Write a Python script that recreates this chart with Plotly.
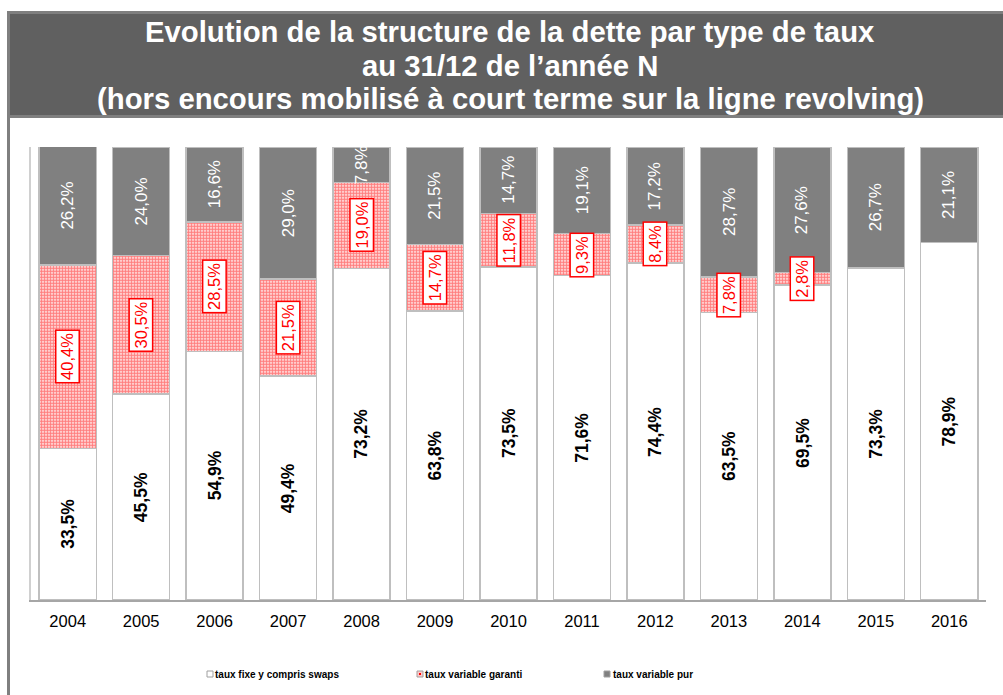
import plotly.graph_objects as go

years = ["2004", "2005", "2006", "2007", "2008", "2009", "2010", "2011", "2012", "2013", "2014", "2015", "2016"]
taux_fixe = [33.5, 45.5, 54.9, 49.4, 73.2, 63.8, 73.5, 71.6, 74.4, 63.5, 69.5, 73.3, 78.9]
taux_garanti = [40.4, 30.5, 28.5, 21.5, 19.0, 14.7, 11.8, 9.3, 8.4, 7.8, 2.8, None, None]
taux_pur = [26.2, 24.0, 16.6, 29.0, 7.8, 21.5, 14.7, 19.1, 17.2, 28.7, 27.6, 26.7, 21.1]

series_names = ["taux fixe y compris swaps", "taux variable garanti", "taux variable pur"]
title_lines = ["Evolution de la structure de la dette par type de taux",
               "au 31/12 de l\u2019ann\u00e9e N",
               "(hors encours mobilis\u00e9 \u00e0 court terme sur la ligne revolving)"]

W, H = 1003, 695
L, R, T, B = 31, 986, 147, 600
FONT = "Liberation Sans, Arial, sans-serif"

xpos = list(range(len(years)))


def px(x):
    return (x - L) / (R - L)


def py(y):
    return (B - y) / (B - T)


def fmt(v):
    return f"{v:.1f}".replace(".", ",") + "%"


BORDER = "#bfbfbf"
GRAY = "#808080"
RED = "#ff0000"

fig = go.Figure()
fig.add_trace(go.Bar(x=xpos, y=taux_fixe, name=series_names[0], width=0.777,
                     marker=dict(color="white", line=dict(color=BORDER, width=1.5))))
fig.add_trace(go.Bar(x=xpos, y=taux_garanti, name=series_names[1], width=0.777,
                     marker=dict(color="white", line=dict(color=BORDER, width=1.5),
                                 pattern=dict(shape=".", fgcolor=RED, bgcolor="white",
                                              size=3, solidity=0.7))))
fig.add_trace(go.Bar(x=xpos, y=taux_pur, name=series_names[2], width=0.777,
                     marker=dict(color=GRAY, line=dict(color=BORDER, width=1.5))))

annotations = []
for i in xpos:
    f = taux_fixe[i]
    g = taux_garanti[i] or 0
    p = taux_pur[i]
    annotations.append(dict(x=i, y=f / 2, xref="x", yref="y", text="<b>" + fmt(f) + "</b>",
                            showarrow=False, textangle=-90,
                            font=dict(family=FONT, size=17.5, color="black")))
    if taux_garanti[i]:
        annotations.append(dict(x=i, y=f + g / 2, xref="x", yref="y", text=fmt(g),
                                showarrow=False, textangle=-90, bgcolor="white",
                                bordercolor=RED, borderwidth=1.5, borderpad=2,
                                font=dict(family=FONT, size=16.5, color=RED)))
    annotations.append(dict(x=i, y=f + g + p / 2, xref="x", yref="y", text=fmt(p),
                            showarrow=False, textangle=-90,
                            font=dict(family=FONT, size=17, color="white")))

# title, one annotation per line
for k, (line, cy) in enumerate(zip(title_lines, [31.5, 65.3, 99.0])):
    annotations.append(dict(x=px(510), y=py(cy), xref="paper", yref="paper",
                            text="<b>" + line + "</b>", showarrow=False,
                            xanchor="center", yanchor="middle",
                            font=dict(family=FONT, size=29.3, color="white")))

shapes = [
    dict(type="rect", xref="paper", yref="paper", x0=px(7), x1=px(1010), y0=py(11), y1=py(118),
         fillcolor="#7f7f7f", line=dict(width=0), layer="below"),
    dict(type="rect", xref="paper", yref="paper", x0=px(10), x1=px(1010), y0=py(14), y1=py(115),
         fillcolor="#606060", line=dict(width=0), layer="below"),
    dict(type="rect", xref="paper", yref="paper", x0=px(7), x1=px(10), y0=py(118), y1=py(700),
         fillcolor="#7f7f7f", line=dict(width=0), layer="below"),
]

# custom legend
legend_items = [(207, 213), (417, 423), (604, 611)]
for k, (sx, tx) in enumerate(legend_items):
    if k == 0:
        shapes.append(dict(type="rect", xref="paper", yref="paper", x0=px(sx), x1=px(sx + 6),
                           y0=py(671), y1=py(677), fillcolor="white",
                           line=dict(color="#a0a0a0", width=1)))
    elif k == 1:
        shapes.append(dict(type="rect", xref="paper", yref="paper", x0=px(sx), x1=px(sx + 6),
                           y0=py(671), y1=py(677), fillcolor="#ffc8c8",
                           line=dict(color="#a0a0a0", width=1)))
        shapes.append(dict(type="rect", xref="paper", yref="paper", x0=px(sx + 2), x1=px(sx + 4),
                           y0=py(673), y1=py(675), fillcolor=RED, line=dict(width=0)))
    else:
        shapes.append(dict(type="rect", xref="paper", yref="paper", x0=px(sx), x1=px(sx + 6),
                           y0=py(671), y1=py(677), fillcolor=GRAY,
                           line=dict(color="#a0a0a0", width=1)))
    annotations.append(dict(x=px(tx), y=py(674), xref="paper", yref="paper",
                            text="<b>" + series_names[k] + "</b>", showarrow=False,
                            xanchor="left", yanchor="middle",
                            font=dict(family=FONT, size=10, color="black")))

fig.update_layout(
    width=W, height=H,
    margin=dict(l=L, r=W - R, t=T, b=H - B, pad=0),
    barmode="stack",
    paper_bgcolor="white", plot_bgcolor="white",
    showlegend=False,
    font=dict(family=FONT, color="black"),
    xaxis=dict(type="linear", range=[-0.5, len(years) - 0.5], autorange=False,
               tickmode="array", tickvals=xpos, ticktext=years,
               showline=True, linecolor="#a6a6a6", linewidth=1.5, ticks="",
               ticklabelstandoff=5,
               tickfont=dict(family=FONT, size=16.5, color="black"), showgrid=False,
               zeroline=False),
    yaxis=dict(range=[0, 100], autorange=False, showline=True, linecolor="#d0d0d0", linewidth=1.5,
               showticklabels=False, showgrid=False, zeroline=False, ticks=""),
    annotations=annotations,
    shapes=shapes,
)

fig.write_html("out.html", config={"displayModeBar": False},
               post_script="document.body.style.margin='0';")
